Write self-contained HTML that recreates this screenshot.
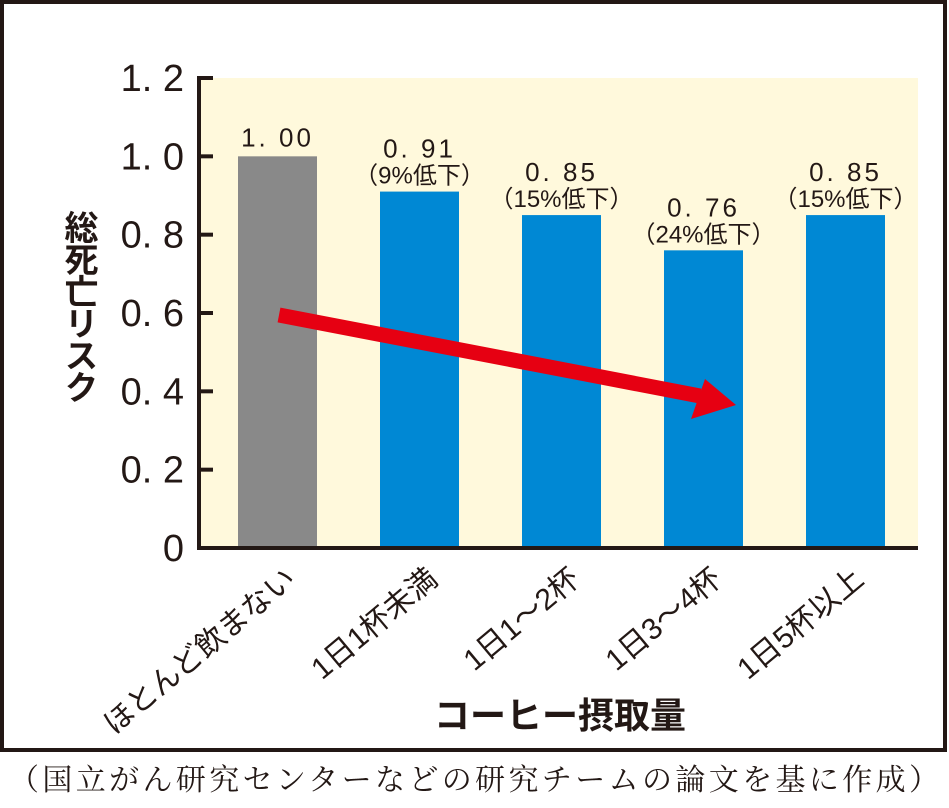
<!DOCTYPE html>
<html><head><meta charset="utf-8"><style>
body{margin:0;width:949px;height:803px;background:#fff;overflow:hidden;font-family:"Liberation Sans","Noto Sans CJK JP",sans-serif}
</style></head><body>
<svg width="949" height="803" viewBox="0 0 949 803" xmlns="http://www.w3.org/2000/svg" font-family="'Liberation Sans','Noto Sans CJK JP',sans-serif">
<rect x="2" y="2" width="943" height="748" fill="none" stroke="#231815" stroke-width="4"/>
<g id="chart"></g>
<text x="78" y="210" font-size="34" font-weight="bold" fill="#231815" writing-mode="tb" style="writing-mode:vertical-rl;text-orientation:upright" letter-spacing="-2">総死亡リスク</text>
<text x="560" y="728" font-size="36" font-weight="bold" fill="#231815" text-anchor="middle">コーヒー摂取量</text>
<text x="474" y="790" font-size="30" fill="#231815" text-anchor="middle" font-family="'Liberation Serif','Noto Serif CJK SC',serif" textLength="930">（国立がん研究センターなどの研究チームの論文を基に作成）</text>
</svg>
<script>
const categories=["ほとんど飲まない","1日1杯未満","1日1～2杯","1日3～4杯","1日5杯以上"];
const values=[1.00,0.91,0.85,0.76,0.85];
const valueLabels=["1. 00","0. 91","0. 85","0. 76","0. 85"];
const noteLabels=["","（9%低下）","（15%低下）","（24%低下）","（15%低下）"];
const yTicks=[0,0.2,0.4,0.6,0.8,1.0,1.2];
const yTickLabels=["0","0. 2","0. 4","0. 6","0. 8","1. 0","1. 2"];
const NS="http://www.w3.org/2000/svg";
const g=document.getElementById('chart');
const x0=200,x1=918,yBase=548,yTop=78,yMax=1.2;
const y=v=>yBase-(v/yMax)*(yBase-yTop);
const step=142,bw=79,firstX=238;
const bx=i=>firstX+i*step;
function mk(t,a){const e=document.createElementNS(NS,t);for(const k in a)e.setAttribute(k,a[k]);g.appendChild(e);return e;}
let bg=mk('rect',{x:x0,y:yTop,width:x1-x0,height:yBase-yTop,fill:'#fff9dc'});


values.forEach((v,i)=>{
 const r=mk('rect',{x:bx(i),y:y(v),width:bw,height:yBase-y(v),fill:i===0?'#898989':'#0088d4'});
 
 
 const cx=bx(i)+bw/2;
 const hasNote=noteLabels[i]!=="";
 const t=mk('text',{x:cx,y:y(v)-(hasNote?34:10),'font-size':26,'text-anchor':'middle',fill:'#231815','letter-spacing':'3'});
 t.textContent=valueLabels[i];
 
 
 if(hasNote){const n=mk('text',{x:cx,y:y(v)-8,'font-size':24,'text-anchor':'middle',fill:'#231815'});
  n.textContent=noteLabels[i];
  
  }
 const l=mk('text',{x:0,y:0,'font-size':30,'text-anchor':'end',fill:'#231815',transform:`translate(${cx+20},${582}) rotate(-40)`});
 l.textContent=categories[i];
 
 
});
let ax=mk('path',{d:`M213 ${yTop} H199 V${yBase} H${x1}`,fill:'none',stroke:'#231815','stroke-width':4});


yTicks.forEach((v,i)=>{
 const tk=mk('line',{x1:199,x2:213,y1:y(v),y2:y(v),stroke:'#231815','stroke-width':4});
 
 
 const t=mk('text',{x:184,y:y(v)+13,'font-size':38,'text-anchor':'end',fill:'#231815'});
 t.textContent=yTickLabels[i];
 
 
});
const ar=mk('path',{d:'M279 315 L700 396',stroke:'#e60012','stroke-width':15,fill:'none'});


const ah=mk('polygon',{points:'736,405 691,419 705,379',fill:'#e60012'});


</script>
</body></html>
